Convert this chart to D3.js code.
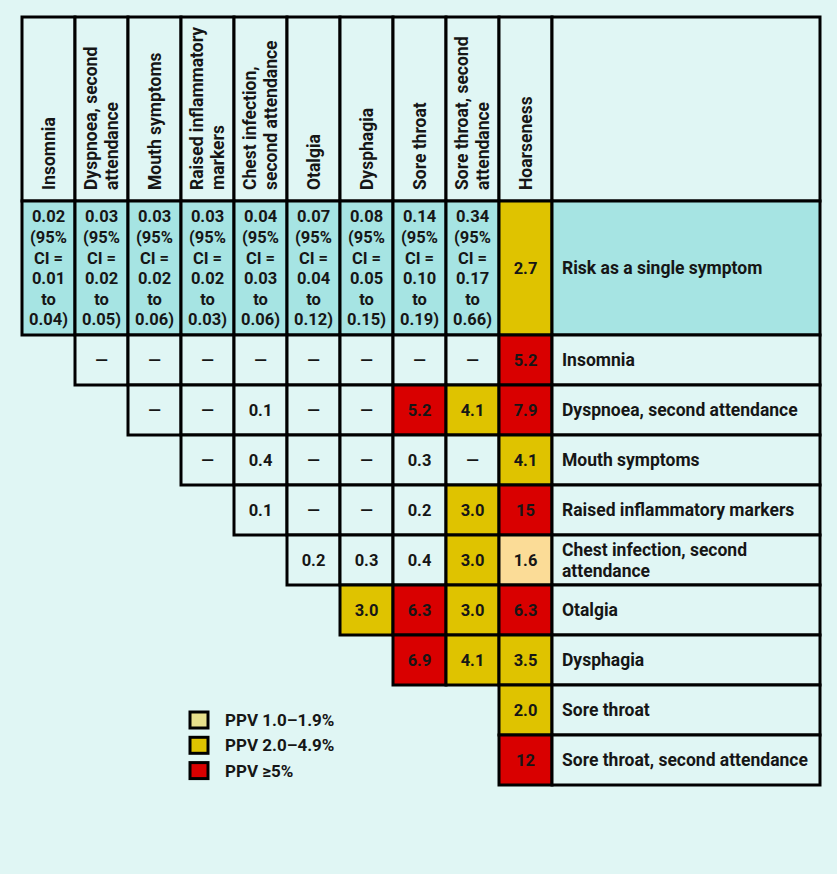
<!DOCTYPE html>
<html>
<head>
<meta charset="utf-8">
<script src="https://cdn.jsdelivr.net/npm/d3@7"></script>
<style>
  html, body { margin: 0; padding: 0; background: #e0f6f4; }
  svg { display: block; }
  text { font-family: Roboto, "DejaVu Sans", sans-serif; font-weight: 700; fill: #161616; }
</style>
</head>
<body>
<svg id="chart" width="837" height="874"></svg>
<script>
// ---------------- DATA ----------------
const columns = ["Insomnia", "Dyspnoea, second attendance", "Mouth symptoms", "Raised inflammatory markers",
  "Chest infection, second attendance", "Otalgia", "Dysphagia", "Sore throat",
  "Sore throat, second attendance", "Hoarseness"];
const headerLines = [["Insomnia"], ["Dyspnoea, second", "attendance"], ["Mouth symptoms"],
  ["Raised inflammatory", "markers"], ["Chest infection,", "second attendance"], ["Otalgia"],
  ["Dysphagia"], ["Sore throat"], ["Sore throat, second", "attendance"], ["Hoarseness"]];
const singleRisk = ["0.02", "0.03", "0.03", "0.03", "0.04", "0.07", "0.08", "0.14", "0.34", "2.7"];
const ciLow  = ["0.01", "0.02", "0.02", "0.02", "0.03", "0.04", "0.05", "0.10", "0.17", null];
const ciHigh = ["0.04", "0.05", "0.06", "0.03", "0.06", "0.12", "0.15", "0.19", "0.66", null];
const riskLabel = "Risk as a single symptom";
const rowLabels = ["Insomnia", "Dyspnoea, second attendance", "Mouth symptoms", "Raised inflammatory markers",
  "Chest infection, second attendance", "Otalgia", "Dysphagia", "Sore throat", "Sore throat, second attendance"];
const rowLabelLines = [["Insomnia"], ["Dyspnoea, second attendance"], ["Mouth symptoms"],
  ["Raised inflammatory markers"], ["Chest infection, second", "attendance"], ["Otalgia"],
  ["Dysphagia"], ["Sore throat"], ["Sore throat, second attendance"]];
// PPV (%) for each pair: row symptom x column symptom (columns after the row's own column).
// "—" = not shown, null = no cell
const ppvInsomnia   = ["—", "—", "—", "—", "—", "—", "—", "—", "5.2"];
const ppvDyspnoea   = ["—", "—", "0.1", "—", "—", "5.2", "4.1", "7.9"];
const ppvMouth      = ["—", "0.4", "—", "—", "0.3", "—", "4.1"];
const ppvRaised     = ["0.1", "—", "—", "0.2", "3.0", "15"];
const ppvChest      = ["0.2", "0.3", "0.4", "3.0", "1.6"];
const ppvOtalgia    = ["3.0", "6.3", "3.0", "6.3"];
const ppvDysphagia  = ["6.9", "4.1", "3.5"];
const ppvSoreThroat = [null, "2.0"];
const ppvSoreThroat2 = ["12"];
const ppvRows = [ppvInsomnia, ppvDyspnoea, ppvMouth, ppvRaised, ppvChest, ppvOtalgia,
  ppvDysphagia, ppvSoreThroat, ppvSoreThroat2];
const legendLabels = ["PPV 1.0–1.9%", "PPV 2.0–4.9%", "PPV ≥5%"];

// ---------------- STYLE ----------------
const bg = "#e0f6f4", riskFill = "#a6e4e3";
const cLight = "#fbdc97", cYellow = "#dfc300", cRed = "#d90000";
const legendFills = ["#e6df8b", cYellow, cRed];
function fillFor(v) {
  const n = parseFloat(v);
  if (isNaN(n) || n < 1) return bg;
  if (n < 2) return cLight;
  if (n < 5) return cYellow;
  return cRed;
}
function textFor(v) { return fillFor(v) === cRed ? "#4a0505" : "#161616"; }

const svg = d3.select("#chart");
const left = 22, colRight = 552, right = 820;
const headerTop = 17, headerBottom = 201, riskBottom = 335, gridBottom = 785;
const labelSize = 17.5, numSize = 16.5;

const x = d3.scaleBand().domain(d3.range(columns.length)).range([left, colRight]);
const y = d3.scaleBand().domain(d3.range(rowLabels.length)).range([riskBottom, gridBottom]);
const lw = 3;

const g = svg.append("g");

// header cells
const hdr = g.append("g");
columns.forEach((c, i) => {
  hdr.append("rect").attr("x", x(i)).attr("y", headerTop).attr("width", x.bandwidth())
    .attr("height", headerBottom - headerTop).attr("fill", bg).attr("stroke", "#000").attr("stroke-width", lw);
  const lines = headerLines[i];
  const cx = x(i) + x.bandwidth() / 2;
  lines.forEach((ln, k) => {
    const off = (k - (lines.length - 1) / 2) * 21.5;
    hdr.append("text")
      .attr("transform", `translate(${cx + off + 6},${headerBottom - 11}) rotate(-90)`)
      .attr("text-anchor", "start").attr("font-size", labelSize).text(ln);
  });
});
hdr.append("rect").attr("x", colRight).attr("y", headerTop).attr("width", right - colRight)
  .attr("height", headerBottom - headerTop).attr("fill", bg).attr("stroke", "#000").attr("stroke-width", lw);

// risk row
const risk = g.append("g");
singleRisk.forEach((v, i) => {
  const isLast = ciLow[i] === null;
  risk.append("rect").attr("x", x(i)).attr("y", headerBottom).attr("width", x.bandwidth())
    .attr("height", riskBottom - headerBottom).attr("fill", isLast ? fillFor(v) : riskFill)
    .attr("stroke", "#000").attr("stroke-width", lw);
  const cx = x(i) + x.bandwidth() / 2, cy = (headerBottom + riskBottom) / 2;
  const lines = isLast ? [v] : [v, "(95%", "CI =", ciLow[i], "to", ciHigh[i] + ")"];
  lines.forEach((ln, k) => {
    risk.append("text").attr("x", cx).attr("y", cy + (k - (lines.length - 1) / 2) * 20.6)
      .attr("dy", "0.36em").attr("text-anchor", "middle").attr("font-size", numSize)
      .attr("fill", textFor(isLast ? v : "0")).text(ln);
  });
});
risk.append("rect").attr("x", colRight).attr("y", headerBottom).attr("width", right - colRight)
  .attr("height", riskBottom - headerBottom).attr("fill", riskFill).attr("stroke", "#000").attr("stroke-width", lw);
risk.append("text").attr("x", colRight + 10).attr("y", (headerBottom + riskBottom) / 2).attr("dy", "0.36em")
  .attr("font-size", labelSize).text(riskLabel);

// grid rows
const grid = g.append("g");
ppvRows.forEach((row, r) => {
  row.forEach((v, k) => {
    if (v === null) return;
    const c = r + 1 + k;
    grid.append("rect").attr("x", x(c)).attr("y", y(r)).attr("width", x.bandwidth()).attr("height", y.bandwidth())
      .attr("fill", fillFor(v)).attr("stroke", "#000").attr("stroke-width", lw);
    grid.append("text").attr("x", x(c) + x.bandwidth() / 2).attr("y", y(r) + y.bandwidth() / 2)
      .attr("dy", "0.36em").attr("text-anchor", "middle").attr("font-size", numSize)
      .attr("fill", textFor(v)).text(v);
  });
  grid.append("rect").attr("x", colRight).attr("y", y(r)).attr("width", right - colRight).attr("height", y.bandwidth())
    .attr("fill", bg).attr("stroke", "#000").attr("stroke-width", lw);
  const lines = rowLabelLines[r];
  lines.forEach((ln, k) => {
    grid.append("text").attr("x", colRight + 10)
      .attr("y", y(r) + y.bandwidth() / 2 + (k - (lines.length - 1) / 2) * 20.5)
      .attr("dy", "0.36em").attr("font-size", labelSize).text(ln);
  });
});

// legend
const lg = svg.append("g");
legendLabels.forEach((lab, i) => {
  const yy = 712 + i * 25.3;
  lg.append("rect").attr("x", 190).attr("y", yy).attr("width", 18).attr("height", 16)
    .attr("fill", legendFills[i]).attr("stroke", "#000").attr("stroke-width", lw);
  lg.append("text").attr("x", 225).attr("y", yy + 8).attr("dy", "0.36em").attr("font-size", 17).text(lab);
});
</script>
</body>
</html>
